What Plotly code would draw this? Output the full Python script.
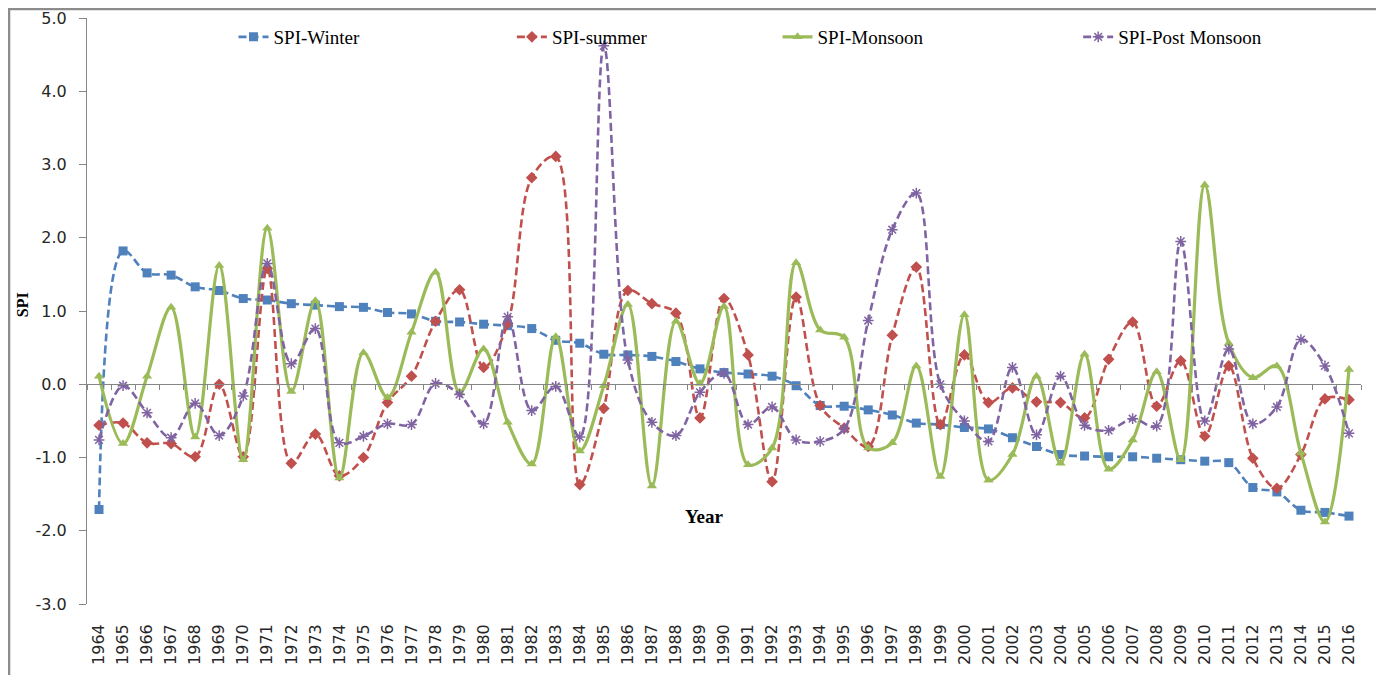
import plotly.graph_objects as go

years = list(range(1964, 2017))

spi_winter = [-1.71, 1.82, 1.52, 1.49, 1.33, 1.28, 1.17, 1.15, 1.10, 1.08,
              1.06, 1.05, 0.98, 0.96, 0.86, 0.85, 0.82, 0.80, 0.76, 0.60,
              0.56, 0.41, 0.40, 0.38, 0.31, 0.21, 0.16, 0.14, 0.11, -0.02,
              -0.29, -0.30, -0.35, -0.42, -0.53, -0.55, -0.59, -0.61, -0.73, -0.85,
              -0.96, -0.98, -0.99, -0.99, -1.01, -1.03, -1.05, -1.07, -1.41, -1.47,
              -1.72, -1.75, -1.80]

spi_summer = [-0.56, -0.53, -0.80, -0.81, -0.99, 0.00, -0.99, 1.58, -1.08, -0.68,
              -1.25, -1.00, -0.25, 0.11, 0.86, 1.29, 0.23, 0.83, 2.82, 3.11,
              -1.37, -0.33, 1.28, 1.10, 0.97, -0.46, 1.17, 0.40, -1.33, 1.19,
              -0.29, -0.60, -0.85, 0.67, 1.60, -0.55, 0.40, -0.25, -0.05, -0.24,
              -0.25, -0.46, 0.34, 0.85, -0.30, 0.32, -0.71, 0.25, -1.01, -1.42,
              -0.96, -0.20, -0.21]

spi_monsoon = [0.11, -0.81, 0.11, 1.05, -0.72, 1.62, -1.03, 2.13, -0.10, 1.14,
               -1.28, 0.43, -0.18, 0.71, 1.53, -0.11, 0.48, -0.52, -1.09, 0.65,
               -0.91, -0.02, 1.09, -1.39, 0.86, 0.01, 1.06, -1.10, -0.87, 1.66,
               0.74, 0.64, -0.87, -0.80, 0.25, -1.26, 0.95, -1.31, -0.96, 0.11,
               -1.08, 0.41, -1.16, -0.76, 0.17, -1.03, 2.72, 0.56, 0.09, 0.25,
               -0.94, -1.88, 0.20]

spi_post = [-0.76, -0.02, -0.39, -0.73, -0.26, -0.70, -0.16, 1.65, 0.28, 0.76,
            -0.80, -0.71, -0.54, -0.55, 0.01, -0.14, -0.54, 0.92, -0.36, -0.03,
            -0.72, 4.62, 0.33, -0.52, -0.70, -0.11, 0.15, -0.55, -0.31, -0.76,
            -0.78, -0.61, 0.87, 2.11, 2.61, 0.00, -0.50, -0.78, 0.23, -0.69,
            0.11, -0.56, -0.63, -0.47, -0.57, 1.95, -0.50, 0.48, -0.54, -0.31,
            0.61, 0.25, -0.67]

y_ticks = [-3, -2, -1, 0, 1, 2, 3, 4, 5]
y_ticktext = ["-3.0", "-2.0", "-1.0", "0.0", "1.0", "2.0", "3.0", "4.0", "5.0"]
category_bounds = [y - 0.5 for y in years] + [years[-1] + 0.5]

C_W, C_S, C_M, C_P = "#4F81BD", "#C0504D", "#9BBB59", "#8064A2"
AX = "#868686"

fig = go.Figure()
fig.add_trace(go.Scatter(
    x=years, y=spi_winter, name="SPI-Winter", mode="lines+markers",
    line=dict(color=C_W, width=2.6, dash="8px,4px", shape="spline", smoothing=1.0),
    marker=dict(symbol="square", size=9, color=C_W), legend="legend"))
fig.add_trace(go.Scatter(
    x=years, y=spi_summer, name="SPI-summer", mode="lines+markers",
    line=dict(color=C_S, width=2.6, dash="8px,4px", shape="spline", smoothing=1.0),
    marker=dict(symbol="diamond", size=9, color=C_S), legend="legend2"))
fig.add_trace(go.Scatter(
    x=years, y=spi_monsoon, name="SPI-Monsoon", mode="lines+markers",
    line=dict(color=C_M, width=3.2, shape="spline", smoothing=1.0),
    marker=dict(symbol="triangle-up", size=9, color=C_M), legend="legend3"))
fig.add_trace(go.Scatter(
    x=years, y=spi_post, name="SPI-Post Monsoon", mode="lines+markers",
    line=dict(color=C_P, width=2.6, dash="8px,4px", shape="spline", smoothing=1.0),
    marker=dict(symbol="asterisk-open", size=9, color=C_P, line=dict(color=C_P, width=1.5)),
    legend="legend4"))
# carrier for the zero-crossing category axis
fig.add_trace(go.Scatter(x=[], y=[], xaxis="x2", showlegend=False, hoverinfo="skip"))

leg_font = dict(family="Liberation Serif", size=19, color="#000000")
leg_common = dict(orientation="h", yanchor="middle", y=0.9676, xanchor="left",
                  bgcolor="rgba(0,0,0,0)", borderwidth=0, font=leg_font)

fig.update_layout(
    width=1376, height=667,
    showlegend=True,
    margin=dict(l=79, r=23, t=10, b=71, autoexpand=False),
    paper_bgcolor="white", plot_bgcolor="white",
    legend=dict(x=0.115, **leg_common),
    legend2=dict(x=0.3335, **leg_common),
    legend3=dict(x=0.542, **leg_common),
    legend4=dict(x=0.778, **leg_common),
    xaxis=dict(range=[1963.5, 2016.5], tickvals=years, ticktext=[str(y) for y in years],
               tickangle=-90, showline=False, ticks="", showgrid=False, zeroline=False,
               ticklabelstandoff=16, automargin=False,
               tickfont=dict(family="DejaVu Sans", size=16, color="#262626")),
    xaxis2=dict(overlaying="x", anchor="free", position=0.375, range=[1963.5, 2016.5],
                tickvals=category_bounds, showticklabels=False, ticks="outside",
                ticklen=5, tickcolor=AX, showline=True, linecolor=AX, linewidth=1.2,
                showgrid=False, zeroline=False, automargin=False),
    yaxis=dict(range=[-3, 5], tickvals=y_ticks, ticktext=y_ticktext, showline=True,
               linecolor=AX, linewidth=1.2, ticks="outside", ticklen=7, tickcolor=AX,
               showgrid=False, zeroline=False, ticklabelstandoff=9, automargin=False,
               tickfont=dict(family="DejaVu Sans", size=16, color="#262626")),
    annotations=[
        dict(text="<b>Year</b>", xref="paper", yref="paper", x=0.485, y=0.1485,
             xanchor="center", yanchor="middle",
             showarrow=False, font=dict(family="Liberation Serif", size=19, color="#000")),
        dict(text="<b>SPI</b>", xref="paper", yref="paper", x=-0.051, y=0.51,
             xanchor="center", yanchor="middle", textangle=-90, showarrow=False,
             font=dict(family="Liberation Serif", size=16, color="#000")),
    ],
    shapes=[dict(type="rect", xref="paper", yref="paper", x0=-0.0612, x1=1.0157,
                 y0=-0.2, y1=1.0154, line=dict(color="#8c8c8c", width=2.5))],
)

fig.write_html("out.html")
